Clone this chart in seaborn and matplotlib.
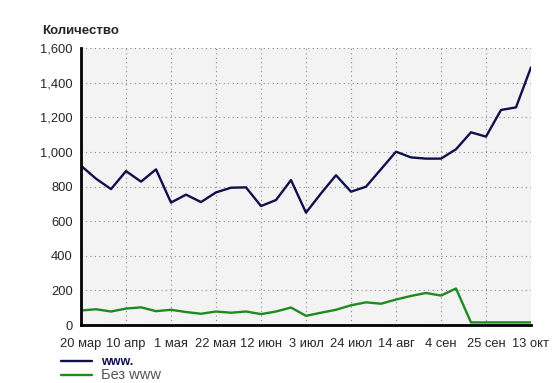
import numpy as np
import pandas as pd
import matplotlib
matplotlib.use("Agg")
import matplotlib.pyplot as plt
import seaborn as sns
from matplotlib.lines import Line2D
from matplotlib.ticker import FuncFormatter

# weekly points, label every 3rd week
tick_labels = ["20 мар", "10 апр", "1 мая", "22 мая", "12 июн", "3 июл",
               "24 июл", "14 авг", "4 сен", "25 сен", "13 окт"]
www = [920, 845, 785, 889, 828, 899, 707, 753, 710, 766, 793, 795, 687, 722,
       837, 649, 760, 865, 770, 799, 900, 1001, 968, 961, 961, 1015, 1113,
       1088, 1242, 1257, 1488]
no_www = [84, 91, 78, 95, 102, 80, 88, 75, 65, 78, 71, 78, 63, 78, 101, 53,
          71, 88, 114, 131, 123, 147, 168, 185, 170, 211, 15, 15, 15, 15, 15]
week = np.arange(len(www))

df = pd.DataFrame({"week": week, "www": www, "no_www": no_www})

navy = "#10104a"
green = "#1f8a1f"

sns.set_style("white")
plt.rcParams["font.family"] = ["Liberation Sans", "DejaVu Sans"]

fig = plt.figure(figsize=(5.53, 3.83), dpi=100)
ax = fig.add_axes([0.1465, 0.1514, 0.8137, 0.7233])
ax.set_facecolor("#f3f3f3")

sns.lineplot(data=df, x="week", y="www", color=navy, linewidth=1.7, ax=ax)
sns.lineplot(data=df, x="week", y="no_www", color=green, linewidth=1.7, ax=ax)

ax.set_xlim(0, 30)
ax.set_ylim(0, 1600)
ax.set_xticks(week[::3])
ax.set_xticklabels(tick_labels)
ax.set_yticks(np.arange(0, 1601, 200))
ax.yaxis.set_major_formatter(FuncFormatter(lambda v, p: f"{int(v):,}"))
ax.set_xlabel("")
ax.set_ylabel("")

ax.grid(True, linestyle=(0, (1, 3)), color="#888888", linewidth=0.8)
for s in ["top", "right"]:
    ax.spines[s].set_visible(False)
for s in ["left", "bottom"]:
    ax.spines[s].set_color("black")
    ax.spines[s].set_linewidth(2)
ax.tick_params(axis="both", direction="out", length=4, width=1,
               color="black", labelsize=9.3)
ax.tick_params(axis="x", pad=5)
ax.tick_params(axis="y", pad=2)

fig.text(0.076, 0.91, "Количество", fontsize=9.5, fontweight="bold")

handles = [Line2D([], [], color=navy, linewidth=1.7),
           Line2D([], [], color=green, linewidth=1.7)]
leg = fig.legend(handles, ["www.", "Без www"], loc="upper left",
                 bbox_to_anchor=(0.110, 0.070), frameon=False,
                 borderpad=0, borderaxespad=0,
                 handlelength=2.5, handletextpad=0.75, labelspacing=0,
                 fontsize=9)
texts = leg.get_texts()
texts[0].set_color(navy)
texts[0].set_fontweight("bold")
texts[1].set_color("#555555")
texts[1].set_fontsize(10.5)

fig.savefig("out.png", dpi=100)
